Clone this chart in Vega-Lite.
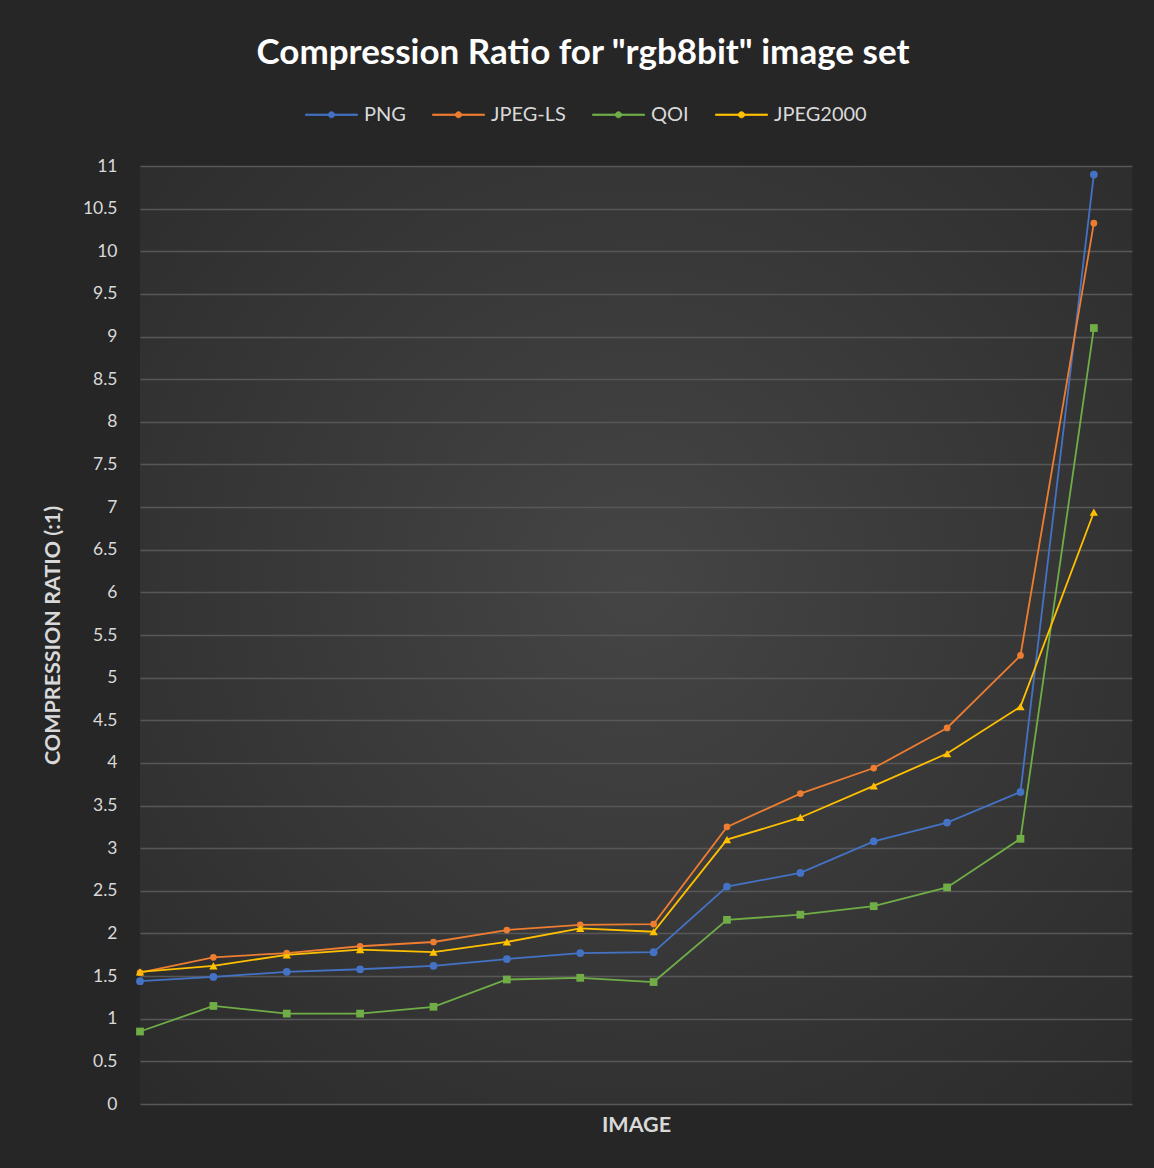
{
  "$schema": "https://vega.github.io/schema/vega-lite/v6.json",
  "width": 992,
  "height": 938,
  "autosize": {"type": "none"},
  "padding": {"left": 140, "top": 166, "right": 22, "bottom": 64},
  "background": "#262626",
  "view": {
    "stroke": null,
    "fill": {
      "gradient": "radial",
      "x1": 0.5, "y1": 0.45, "r1": 0,
      "x2": 0.5, "y2": 0.45, "r2": 0.8,
      "stops": [
        {"offset": 0, "color": "#454545"},
        {"offset": 1, "color": "#282828"}
      ]
    }
  },
  "title": {
    "text": "Compression Ratio for \"rgb8bit\" image set",
    "font": "Lato",
    "fontSize": 35,
    "fontWeight": "bold",
    "color": "#ffffff",
    "anchor": "middle",
    "dx": -53,
    "offset": 17
  },
  "data": {
    "values": [
      {"image": 1, "codec": "PNG", "ratio": 1.44},
      {"image": 2, "codec": "PNG", "ratio": 1.49},
      {"image": 3, "codec": "PNG", "ratio": 1.55},
      {"image": 4, "codec": "PNG", "ratio": 1.58},
      {"image": 5, "codec": "PNG", "ratio": 1.62},
      {"image": 6, "codec": "PNG", "ratio": 1.70},
      {"image": 7, "codec": "PNG", "ratio": 1.77},
      {"image": 8, "codec": "PNG", "ratio": 1.78},
      {"image": 9, "codec": "PNG", "ratio": 2.55},
      {"image": 10, "codec": "PNG", "ratio": 2.71},
      {"image": 11, "codec": "PNG", "ratio": 3.08},
      {"image": 12, "codec": "PNG", "ratio": 3.30},
      {"image": 13, "codec": "PNG", "ratio": 3.66},
      {"image": 14, "codec": "PNG", "ratio": 10.90},
      {"image": 1, "codec": "JPEG-LS", "ratio": 1.54},
      {"image": 2, "codec": "JPEG-LS", "ratio": 1.72},
      {"image": 3, "codec": "JPEG-LS", "ratio": 1.77},
      {"image": 4, "codec": "JPEG-LS", "ratio": 1.85},
      {"image": 5, "codec": "JPEG-LS", "ratio": 1.90},
      {"image": 6, "codec": "JPEG-LS", "ratio": 2.04},
      {"image": 7, "codec": "JPEG-LS", "ratio": 2.10},
      {"image": 8, "codec": "JPEG-LS", "ratio": 2.11},
      {"image": 9, "codec": "JPEG-LS", "ratio": 3.25},
      {"image": 10, "codec": "JPEG-LS", "ratio": 3.64},
      {"image": 11, "codec": "JPEG-LS", "ratio": 3.94},
      {"image": 12, "codec": "JPEG-LS", "ratio": 4.41},
      {"image": 13, "codec": "JPEG-LS", "ratio": 5.26},
      {"image": 14, "codec": "JPEG-LS", "ratio": 10.33},
      {"image": 1, "codec": "QOI", "ratio": 0.85},
      {"image": 2, "codec": "QOI", "ratio": 1.15},
      {"image": 3, "codec": "QOI", "ratio": 1.06},
      {"image": 4, "codec": "QOI", "ratio": 1.06},
      {"image": 5, "codec": "QOI", "ratio": 1.14},
      {"image": 6, "codec": "QOI", "ratio": 1.46},
      {"image": 7, "codec": "QOI", "ratio": 1.48},
      {"image": 8, "codec": "QOI", "ratio": 1.43},
      {"image": 9, "codec": "QOI", "ratio": 2.16},
      {"image": 10, "codec": "QOI", "ratio": 2.22},
      {"image": 11, "codec": "QOI", "ratio": 2.32},
      {"image": 12, "codec": "QOI", "ratio": 2.54},
      {"image": 13, "codec": "QOI", "ratio": 3.11},
      {"image": 14, "codec": "QOI", "ratio": 9.10},
      {"image": 1, "codec": "JPEG2000", "ratio": 1.55},
      {"image": 2, "codec": "JPEG2000", "ratio": 1.62},
      {"image": 3, "codec": "JPEG2000", "ratio": 1.75},
      {"image": 4, "codec": "JPEG2000", "ratio": 1.81},
      {"image": 5, "codec": "JPEG2000", "ratio": 1.78},
      {"image": 6, "codec": "JPEG2000", "ratio": 1.90},
      {"image": 7, "codec": "JPEG2000", "ratio": 2.06},
      {"image": 8, "codec": "JPEG2000", "ratio": 2.02},
      {"image": 9, "codec": "JPEG2000", "ratio": 3.10},
      {"image": 10, "codec": "JPEG2000", "ratio": 3.36},
      {"image": 11, "codec": "JPEG2000", "ratio": 3.73},
      {"image": 12, "codec": "JPEG2000", "ratio": 4.11},
      {"image": 13, "codec": "JPEG2000", "ratio": 4.66},
      {"image": 14, "codec": "JPEG2000", "ratio": 6.94}
    ]
  },
  "encoding": {
    "x": {
      "field": "image",
      "type": "quantitative",
      "scale": {"domain": [1, 14.52], "nice": false, "zero": false},
      "axis": {
        "title": "IMAGE",
        "labels": false,
        "ticks": false,
        "domain": false,
        "grid": false,
        "titleFont": "Lato",
        "titleFontSize": 21.5,
        "titleFontWeight": "bold",
        "titleColor": "#d9d9d9",
        "titlePadding": 10,
        "titleX": 496
      }
    },
    "y": {
      "field": "ratio",
      "type": "quantitative",
      "scale": {"domain": [0, 11], "nice": false},
      "axis": {
        "title": "COMPRESSION RATIO (:1)",
        "values": [0, 0.5, 1, 1.5, 2, 2.5, 3, 3.5, 4, 4.5, 5, 5.5, 6, 6.5, 7, 7.5, 8, 8.5, 9, 9.5, 10, 10.5, 11],
        "labelExpr": "format(datum.value, '~g')",
        "ticks": false,
        "domain": false,
        "grid": true,
        "gridColor": "#575757",
        "gridWidth": 1.3,
        "labelFont": "Lato",
        "labelFontSize": 17.5,
        "labelColor": "#d9d9d9",
        "labelPadding": 23,
        "titleFont": "Lato",
        "titleFontSize": 21.5,
        "titleFontWeight": "bold",
        "titleColor": "#d9d9d9",
        "titlePadding": 18
      }
    },
    "color": {
      "field": "codec",
      "type": "nominal",
      "scale": {
        "domain": ["PNG", "JPEG-LS", "QOI", "JPEG2000"],
        "range": ["#4472c4", "#ed7d31", "#70ad47", "#ffc000"]
      },
      "legend": {
        "title": null,
        "orient": "none",
        "direction": "horizontal",
        "legendX": 165,
        "legendY": -78,
        "symbolType": "M-1,-0.025H1V0.025H-1Z M0.12,0A0.12,0.12,0,1,1,-0.12,0A0.12,0.12,0,1,1,0.12,0Z",
        "symbolSize": 2704,
        "symbolStrokeWidth": 0.8,
        "symbolOpacity": 1,
        "labelFont": "Lato",
        "labelFontSize": 20,
        "labelColor": "#d9d9d9",
        "labelOffset": 6,
        "columnPadding": 24
      }
    }
  },
  "layer": [
    {
      "transform": [{"filter": "datum.codec === 'PNG'"}],
      "mark": {"type": "point", "filled": true, "opacity": 1, "shape": "circle", "size": 60}
    },
    {
      "transform": [{"filter": "datum.codec === 'JPEG-LS'"}],
      "mark": {"type": "point", "filled": true, "opacity": 1, "shape": "circle", "size": 45}
    },
    {
      "transform": [{"filter": "datum.codec === 'QOI'"}],
      "mark": {"type": "point", "filled": true, "opacity": 1, "shape": "square", "size": 60}
    },
    {
      "transform": [{"filter": "datum.codec === 'JPEG2000'"}],
      "mark": {"type": "point", "filled": true, "opacity": 1, "shape": "triangle-up", "size": 70}
    },
    {
      "mark": {"type": "line", "strokeWidth": 1.8}
    }
  ]
}
